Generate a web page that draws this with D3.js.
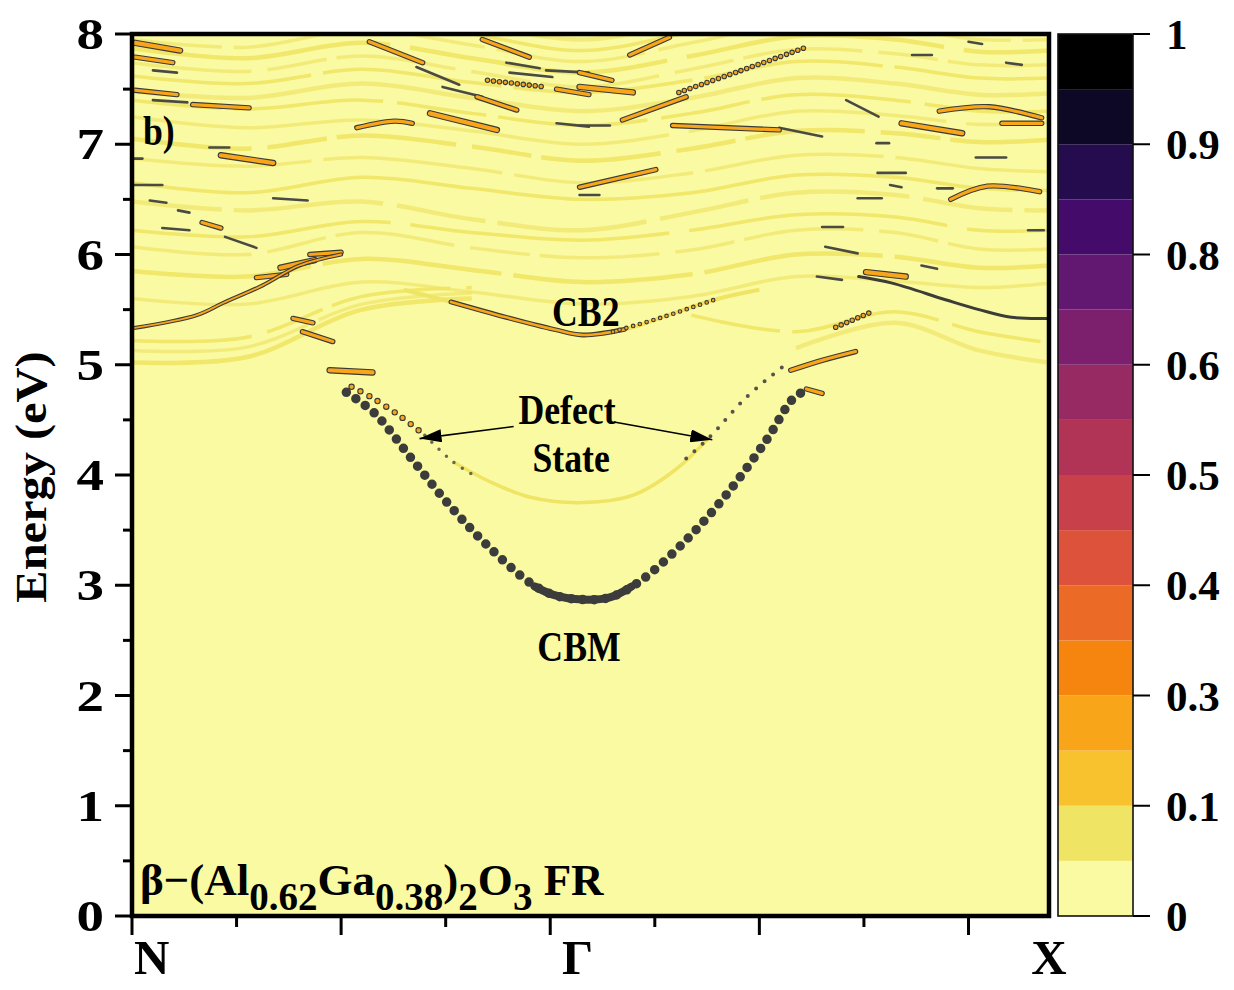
<!DOCTYPE html>
<html>
<head>
<meta charset="utf-8">
<script src="https://cdn.jsdelivr.net/npm/d3@7"></script>
<style>
  body { margin: 0; background: #fff; }
  svg text { font-family: "Liberation Serif", "Times New Roman", serif; font-weight: bold; fill: #000; }
</style>
</head>
<body>
<svg id="chart" width="1234" height="990"></svg>
<script>
// ---------- data ----------
const kMax = 8.77
const kTicks = [0, 1, 2, 3, 4, 5, 6, 7, 8]
const kLabelNames = ['N', 'Γ', 'X']
const kLabelPos = [0, 4.31, 8.77]
const eTicks = [0, 1, 2, 3, 4, 5, 6, 7, 8]
const eMinorTicks = [0.5, 1.5, 2.5, 3.5, 4.5, 5.5, 6.5, 7.5]

// contour levels of the colour bar (16 bands, labelled every other boundary)
const levelBounds = [0, 0.05, 0.1, 0.2, 0.3, 0.35, 0.4, 0.45, 0.5, 0.55, 0.6, 0.7, 0.8, 0.85, 0.9, 0.95, 1]
const levelLabels = ['0', '0.1', '0.3', '0.4', '0.5', '0.6', '0.8', '0.9', '1']
const levelColors = ['#fafaa2', '#f0e464', '#f8c12e', '#f8a51a', '#f6850f', '#eb6a26',
  '#dc523a', '#c8404a', '#b13356', '#972963', '#7c1f6c', '#621770', '#440b6a',
  '#240c4e', '#0d0826', '#000000']

// weak (faint) bands, energies at shared k knots
const bandKnots = [0, 1.1, 2.2, 3.25, 4.31, 5.35, 6.35, 7.3, 8.1, 8.77]
const faintBands = [
  [5.02, 5.07, 5.50, 5.60, null, null, null, null, null, null],
  [5.13, 5.16, 5.55, 5.65, null, null, null, null, null, null],
  [5.22, 5.25, 5.62, 5.70, null, null, null, null, null, null],
  [null, null, null, null, null, null, 5.15, 5.38, 5.13, 5.02],
  [null, null, null, null, null, 5.45, 5.30, 5.48, 5.30, 5.20],
  [5.60, 5.55, 5.75, 5.66, 5.55, 5.62, 5.80, 5.76, 5.70, 5.74],
  [5.85, 5.80, 5.96, 5.86, 5.75, 5.82, 6.00, 5.98, 5.88, 5.90],
  [6.07, 6.00, 6.20, 6.06, 5.97, 6.04, 6.22, 6.20, 6.05, 6.05],
  [6.22, 6.16, 6.30, 6.20, 6.13, 6.22, 6.36, 6.34, 6.22, 6.22],
  [6.48, 6.40, 6.48, 6.32, 6.22, 6.38, 6.56, 6.54, 6.42, 6.40],
  [6.65, 6.56, 6.70, 6.60, 6.50, 6.56, 6.72, 6.70, 6.60, 6.58],
  [6.87, 6.80, 6.88, 6.78, 6.65, 6.74, 6.90, 6.88, 6.78, 6.75],
  [7.05, 6.96, 7.08, 6.98, 6.85, 6.96, 7.12, 7.10, 7.02, 7.04],
  [7.25, 7.15, 7.22, 7.12, 7.00, 7.12, 7.30, 7.26, 7.18, 7.20],
  [7.40, 7.32, 7.40, 7.28, 7.17, 7.28, 7.45, 7.40, 7.30, 7.30],
  [7.48, 7.42, 7.55, 7.42, 7.30, 7.42, 7.60, 7.55, 7.45, 7.46],
  [7.62, 7.55, 7.68, 7.56, 7.47, 7.58, 7.75, 7.70, 7.60, 7.60],
  [7.74, 7.66, 7.80, 7.66, 7.52, 7.68, 7.86, 7.82, 7.72, 7.72],
  [7.87, 7.78, 7.92, 7.78, 7.65, 7.80, 7.98, 7.95, 7.84, 7.85],
  [7.95, 7.88, 8.04, 7.90, 7.75, 7.92, 8.10, 8.06, 7.95, 7.95],
  [8.10, 8.02, 8.15, 8.00, 7.85, 8.02, 8.20, 8.16, 8.06, 8.05],
  [8.25, 8.15, 8.28, 8.10, 7.95, 8.12, 8.30, 8.28, 8.18, 8.20]
]

// conduction band minimum (heavy weight, dotted)
const cbmK = [2.05, 2.32, 2.68, 3.05, 3.41, 3.81, 4.04, 4.31, 4.57, 4.85, 5.30, 5.70, 6.07, 6.33, 6.48]
const cbmE = [4.75, 4.56, 4.14, 3.71, 3.35, 3.02, 2.91, 2.87, 2.89, 3.03, 3.41, 3.84, 4.32, 4.70, 4.78]
const cbmCoreK = [3.85, 4.04, 4.31, 4.57, 4.78]
const cbmCoreE = [2.99, 2.91, 2.87, 2.89, 2.99]

// defect state
const defectLeftK = [2.10, 2.28, 2.57, 2.80]
const defectLeftE = [4.80, 4.71, 4.53, 4.36]
const defectTailK = [2.80, 3.07, 3.30]
const defectTailE = [4.36, 4.12, 3.98]
const defectMidK = [3.07, 3.40, 3.80, 4.31, 4.80, 5.20, 5.52]
const defectMidE = [4.12, 3.95, 3.80, 3.75, 3.82, 4.05, 4.34]
const defectRightK = [5.30, 5.52, 5.87, 6.22]
const defectRightE = [4.15, 4.34, 4.70, 4.98]

// second conduction band
const cb2FaintK = [2.60, 3.05, 3.58, 4.04, 4.31, 4.71, 5.07, 5.57, 6.00]
const cb2FaintE = [5.68, 5.57, 5.43, 5.32, 5.27, 5.32, 5.43, 5.59, 5.68]
const cb2SolidK = [3.05, 3.58, 4.04, 4.31, 4.71]
const cb2SolidE = [5.57, 5.43, 5.32, 5.27, 5.32]
const cb2DotK = [4.60, 5.07, 5.57]
const cb2DotE = [5.30, 5.43, 5.59]

// bands leaving N and X
const leftBandK = [0, 0.62, 0.87, 1.25, 1.60, 2.00]
const leftBandE = [5.33, 5.45, 5.56, 5.72, 5.90, 6.00]
const rightBandK = [6.95, 7.27, 7.78, 8.10, 8.41, 8.77]
const rightBandE = [5.80, 5.74, 5.59, 5.50, 5.43, 5.42]

// strong (orange, contoured) fragments
const orangeSegs = [
  [[0.03, 7.92], [0.46, 7.85]], [[0.03, 7.79], [0.39, 7.74]], [[0.03, 7.49], [0.43, 7.45]],
  [[0.58, 7.36], [1.12, 7.33]], [[0.85, 6.90], [1.35, 6.83]], [[2.15, 7.15], [2.51, 7.21], [2.68, 7.19]],
  [[2.27, 7.93], [2.78, 7.74]], [[3.30, 7.43], [3.68, 7.31]], [[2.85, 7.28], [3.49, 7.13]],
  [[3.35, 7.95], [3.80, 7.79]], [[4.06, 7.50], [4.37, 7.45]], [[4.28, 7.65], [4.59, 7.58]],
  [[4.28, 7.52], [4.79, 7.47]], [[4.76, 7.81], [5.14, 7.97]],
  [[4.69, 7.22], [5.30, 7.43]], [[5.17, 7.17], [6.19, 7.13]], [[7.36, 7.19], [7.94, 7.10]],
  [[7.72, 7.30], [8.20, 7.34], [8.70, 7.24]], [[8.32, 7.19], [8.70, 7.19]],
  [[7.83, 6.50], [8.18, 6.62], [8.68, 6.57]], [[7.02, 5.84], [7.40, 5.80]],
  [[4.28, 6.61], [5.01, 6.77]], [[0.67, 6.29], [0.85, 6.24]], [[1.70, 6.00], [2.00, 6.02]],
  [[1.42, 5.88], [1.75, 5.95]], [[1.19, 5.79], [1.48, 5.82]], [[1.54, 5.42], [1.73, 5.38]],
  [[1.63, 5.30], [1.92, 5.21]], [[1.89, 4.95], [2.30, 4.93]], [[6.30, 4.95], [6.60, 5.04], [6.92, 5.12]],
  [[6.45, 4.78], [6.60, 4.74]]
]
// chains of small contoured beads
const beadSegs = [
  [[5.23, 7.47], [5.80, 7.66], [6.45, 7.88]],
  [[6.73, 5.34], [7.05, 5.47]],
  [[3.40, 7.58], [3.95, 7.52]]
]
// thin dark fragments
const darkSegs = [
  [[0.20, 7.67], [0.43, 7.65]], [[0.20, 7.40], [0.53, 7.38]], [[0.74, 6.97], [0.93, 6.97]],
  [[2.72, 7.70], [3.13, 7.54]], [[2.97, 7.52], [3.35, 7.43]], [[3.58, 7.74], [3.90, 7.69]],
  [[3.61, 7.65], [4.02, 7.61]], [[3.96, 7.67], [4.37, 7.65]], [[4.06, 7.19], [4.37, 7.16]],
  [[4.28, 7.17], [4.57, 7.17]], [[6.19, 7.15], [6.60, 7.07]], [[6.83, 7.40], [7.14, 7.25]],
  [[7.46, 7.81], [7.65, 7.81]], [[8.36, 7.74], [8.51, 7.72]], [[8.00, 7.93], [8.13, 7.91]],
  [[7.12, 7.01], [7.24, 7.01]], [[8.07, 6.88], [8.36, 6.88]], [[7.13, 6.74], [7.40, 6.74]],
  [[7.25, 6.63], [7.36, 6.61]], [[6.94, 6.51], [7.17, 6.51]], [[6.63, 6.07], [6.94, 6.01]],
  [[6.55, 5.80], [6.79, 5.77]], [[7.55, 5.90], [7.70, 5.87]], [[8.57, 6.22], [8.72, 6.22]],
  [[0.02, 6.63], [0.29, 6.63]], [[1.35, 6.51], [1.68, 6.49]], [[0.17, 6.49], [0.33, 6.47]],
  [[0.44, 6.40], [0.55, 6.38]], [[0.89, 6.16], [1.19, 6.06]], [[0.29, 6.24], [0.55, 6.22]],
  [[0.02, 6.87], [0.10, 6.87]], [[4.28, 6.54], [4.47, 6.54]], [[7.70, 6.60], [7.85, 6.60]],
  [[6.60, 6.25], [6.80, 6.25]]
]

// annotations
const annoText = ['CB2', 'Defect', 'State', 'CBM']
const annoK = [4.34, 4.16, 4.20, 4.275]
const annoE = [5.35, 4.46, 4.03, 2.31]
const arrowFrom = [[3.65, 4.44], [4.61, 4.48]]
const arrowTo = [[2.75, 4.33], [5.55, 4.32]]

// ---------- layout ----------
const plot = { left: 132, right: 1049, top: 34, bottom: 916 }
const bar = { left: 1058, right: 1133 }
const outline = '#3a3a36'

const svg = d3.select('#chart')
const x = d3.scaleLinear().domain([0, kMax]).range([plot.left, plot.right])
const y = d3.scaleLinear().domain([0, 8]).range([plot.bottom, plot.top])
const level = d3.scaleThreshold().domain(levelBounds.slice(1, -1)).range(levelColors)

svg.append('defs').append('clipPath').attr('id', 'clip')
  .append('rect')
  .attr('x', plot.left).attr('y', plot.top)
  .attr('width', plot.right - plot.left).attr('height', plot.bottom - plot.top)

svg.select('defs').append('marker')
  .attr('id', 'arrow')
  .attr('viewBox', '0 0 10 10')
  .attr('refX', 10).attr('refY', 5)
  .attr('markerUnits', 'userSpaceOnUse')
  .attr('markerWidth', 22).attr('markerHeight', 13)
  .attr('orient', 'auto')
  .attr('preserveAspectRatio', 'none')
  .append('path').attr('d', 'M0,0 L10,5 L0,10 z').attr('fill', '#000')

// background = lowest contour level
svg.append('rect')
  .attr('x', plot.left).attr('y', plot.top)
  .attr('width', plot.right - plot.left).attr('height', plot.bottom - plot.top)
  .attr('fill', level(0.01))

const g = svg.append('g').attr('clip-path', 'url(#clip)')

const lineKE = d3.line()
  .defined(d => d[1] != null)
  .x(d => x(d[0])).y(d => y(d[1]))
  .curve(d3.curveCatmullRom.alpha(0.5))

const zipKE = (ks, es) => ks.map((k, i) => [k, es[i]])

// faint bands
const dashes = ['none', '180 12', '120 16 60 10', '260 20', '90 12 150 14']
faintBands.forEach((band, i) => {
  g.append('path')
    .attr('d', lineKE(zipKE(bandKnots, band)))
    .attr('fill', 'none')
    .attr('stroke', level(0.07))
    .attr('stroke-width', i % 3 === 0 ? 4.5 : 3.5)
    .attr('stroke-opacity', i % 2 === 0 ? 0.9 : 0.65)
    .attr('stroke-dasharray', dashes[i % dashes.length])
})

// faint parts of CB2 and of the defect state
g.append('path').attr('d', lineKE(zipKE(cb2FaintK, cb2FaintE)))
  .attr('fill', 'none').attr('stroke', level(0.07)).attr('stroke-width', 4)
g.append('path').attr('d', lineKE(zipKE(defectMidK, defectMidE)))
  .attr('fill', 'none').attr('stroke', level(0.07)).attr('stroke-width', 3.5)

// thin dark fragments
darkSegs.forEach(seg => {
  g.append('path').attr('d', lineKE(seg))
    .attr('fill', 'none').attr('stroke', '#4a4a44')
    .attr('stroke-width', 2.6).attr('stroke-linecap', 'round')
})

// orange contoured fragments
function contoured(data, width, dash) {
  g.append('path').attr('d', lineKE(data))
    .attr('fill', 'none').attr('stroke', outline)
    .attr('stroke-width', width + 2.2).attr('stroke-linecap', 'round')
    .attr('stroke-dasharray', dash || 'none')
  g.append('path').attr('d', lineKE(data))
    .attr('fill', 'none').attr('stroke', level(0.25))
    .attr('stroke-width', width).attr('stroke-linecap', 'round')
    .attr('stroke-dasharray', dash || 'none')
}
orangeSegs.forEach((seg, i) => contoured(seg, i % 4 === 0 ? 4.2 : 3.2))
beadSegs.forEach(seg => contoured(seg, 3.4, '0 6'))

// bands from N and X
contoured(zipKE(leftBandK, leftBandE), 1.8)
g.append('path').attr('d', lineKE(zipKE(rightBandK, rightBandE)))
  .attr('fill', 'none').attr('stroke', '#3c3c38').attr('stroke-width', 3)
  .attr('stroke-linecap', 'round')

// CB2
contoured(zipKE(cb2SolidK, cb2SolidE), 2.6)
contoured(zipKE(cb2DotK, cb2DotE), 2.5, '0 7')

// defect state dots
contoured(zipKE(defectLeftK, defectLeftE), 4.2, '0 10')
g.append('path').attr('d', lineKE(zipKE(defectTailK, defectTailE)))
  .attr('fill', 'none').attr('stroke', '#6a6650').attr('stroke-width', 3.5)
  .attr('stroke-linecap', 'round').attr('stroke-dasharray', '0 10')
g.append('path').attr('d', lineKE(zipKE(defectRightK, defectRightE)))
  .attr('fill', 'none').attr('stroke', '#55544a').attr('stroke-width', 4)
  .attr('stroke-linecap', 'round').attr('stroke-dasharray', '0 11')

// CBM
g.append('path').attr('d', lineKE(zipKE(cbmK, cbmE)))
  .attr('fill', 'none').attr('stroke', '#3c3c3c').attr('stroke-width', 9.5)
  .attr('stroke-linecap', 'round').attr('stroke-dasharray', '0 11.5')
g.append('path').attr('d', lineKE(zipKE(cbmCoreK, cbmCoreE)))
  .attr('fill', 'none').attr('stroke', '#3c3c3c').attr('stroke-width', 8)
  .attr('stroke-linecap', 'round')

// ---------- annotations ----------
function label(parent, px, py, str, size, anchor, sx) {
  return parent.append('text')
    .attr('transform', `translate(${px},${py}) scale(${sx || 1},1)`)
    .attr('text-anchor', anchor || 'middle')
    .attr('font-size', size)
    .text(str)
}

annoText.forEach((t, i) => label(svg, x(annoK[i]), y(annoE[i]), t, 42, 'middle', 0.85))

arrowFrom.forEach((p, i) => {
  svg.append('line')
    .attr('x1', x(p[0])).attr('y1', y(p[1]))
    .attr('x2', x(arrowTo[i][0])).attr('y2', y(arrowTo[i][1]))
    .attr('stroke', '#000').attr('stroke-width', 1.6)
    .attr('marker-end', 'url(#arrow)')
})

label(svg, plot.left + 11, 145, 'b)', 42, 'start', 0.85)

// compound name with subscripts
const title = svg.append('text')
  .attr('x', plot.left + 8).attr('y', 895)
  .attr('font-size', 45)
const titleParts = [['β−(Al', 0], ['0.62', 1], ['Ga', 0], ['0.38', 1], [')', 0], ['2', 1], ['O', 0], ['3', 1], [' FR', 0]]
let shifted = 0
titleParts.forEach(([t, sub]) => {
  const dy = sub ? 15 - shifted : -shifted
  shifted = sub ? 15 : 0
  title.append('tspan').attr('dy', dy).attr('font-size', sub ? 39 : 45).text(t)
})

// ---------- frame and axes ----------
svg.append('rect')
  .attr('x', plot.left).attr('y', plot.top)
  .attr('width', plot.right - plot.left).attr('height', plot.bottom - plot.top)
  .attr('fill', 'none').attr('stroke', '#000').attr('stroke-width', 4.5)

eTicks.forEach(e => {
  svg.append('line').attr('x1', plot.left - 17).attr('x2', plot.left)
    .attr('y1', y(e)).attr('y2', y(e)).attr('stroke', '#000').attr('stroke-width', 3)
  label(svg, 104, y(e) + 15, String(e), 44, 'end', 1.25)
})
eMinorTicks.forEach(e => {
  svg.append('line').attr('x1', plot.left - 9).attr('x2', plot.left)
    .attr('y1', y(e)).attr('y2', y(e)).attr('stroke', '#000').attr('stroke-width', 3)
})
kTicks.forEach(k => {
  svg.append('line').attr('x1', x(k)).attr('x2', x(k))
    .attr('y1', plot.bottom).attr('y2', plot.bottom + (k % 2 === 0 ? 19 : 11))
    .attr('stroke', '#000').attr('stroke-width', 3)
})
kLabelNames.forEach((n, i) => {
  const anchor = i === 0 ? 'start' : 'middle'
  const px = i === 0 ? x(kLabelPos[i]) + 2 : i === 1 ? x(kLabelPos[i]) - 5 : x(kLabelPos[i])
  label(svg, px, 974, n, 49, anchor, 1)
})

svg.append('text')
  .attr('transform', 'translate(46,477) rotate(-90) scale(1.1,1)')
  .attr('text-anchor', 'middle')
  .attr('font-size', 44)
  .text('Energy (eV)')

// ---------- colour bar ----------
const barY = d3.scaleLinear().domain([0, levelColors.length]).range([plot.bottom, plot.top])
svg.append('g').selectAll('rect')
  .data(levelColors)
  .join('rect')
  .attr('x', bar.left).attr('width', bar.right - bar.left)
  .attr('y', (d, i) => barY(i + 1))
  .attr('height', (d, i) => barY(i) - barY(i + 1))
  .attr('fill', d => d)
svg.append('rect')
  .attr('x', bar.left).attr('y', plot.top)
  .attr('width', bar.right - bar.left).attr('height', plot.bottom - plot.top)
  .attr('fill', 'none').attr('stroke', '#111').attr('stroke-width', 1.6)

levelLabels.forEach((t, i) => {
  const py = barY(i * 2)
  svg.append('line').attr('x1', bar.right).attr('x2', bar.right + 17)
    .attr('y1', py).attr('y2', py).attr('stroke', '#000').attr('stroke-width', 2)
  label(svg, 1166, py + 15, t, 43, 'start', 1)
})
</script>
</body>
</html>
